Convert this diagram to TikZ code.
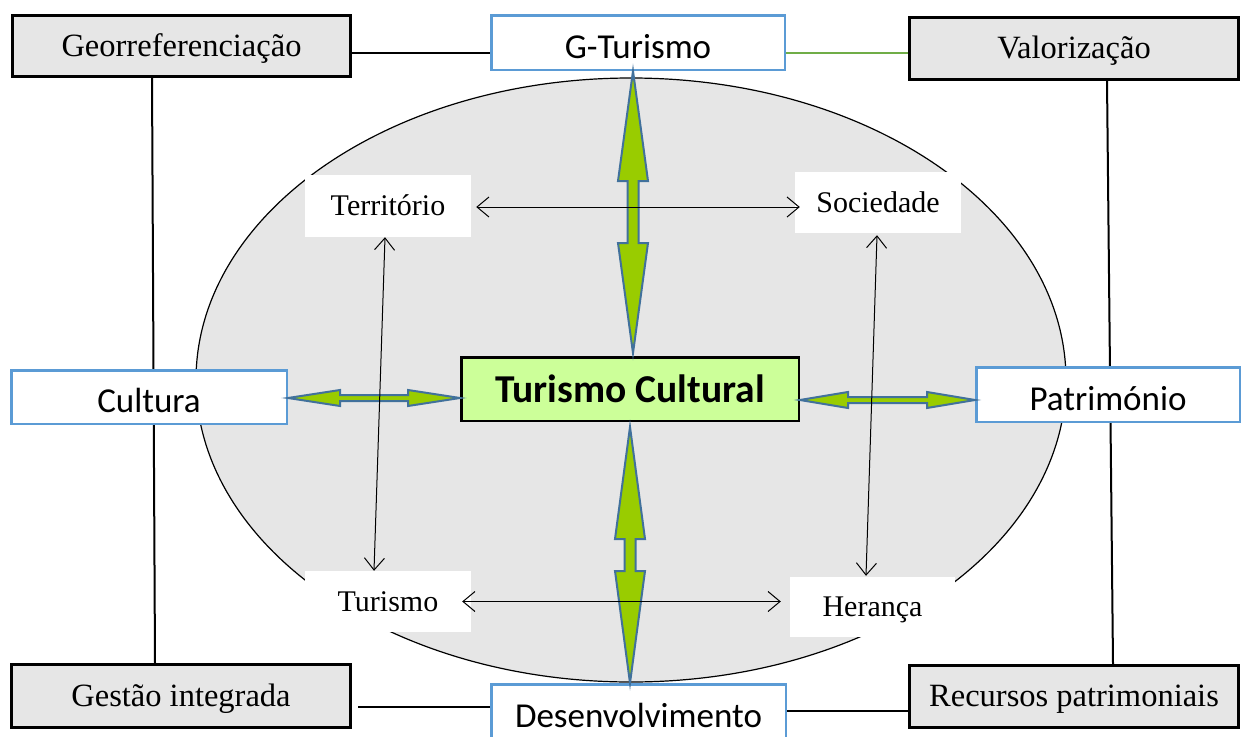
\documentclass[tikz,border=0pt]{standalone}
\usepackage{fontspec}
\setmainfont{Liberation Serif}
\newfontfamily\calibri{Carlito}
\usepackage{tikz}
\usetikzlibrary{calc,arrows.meta}
\definecolor{cinza}{HTML}{E6E6E6}
\definecolor{azul}{HTML}{5B9BD5}
\definecolor{verdeclaro}{HTML}{CCFF99}
\definecolor{verdeseta}{HTML}{99CC00}
\definecolor{azulseta}{HTML}{41719C}
\definecolor{verdelinha}{HTML}{70AD47}

% double block arrow: ends, half shaft, half head, head length
\newcommand{\setadupla}[5]{%
  \coordinate (h1) at ($(#1)!#5!(#2)$);
  \coordinate (h2) at ($(#2)!#5!(#1)$);
  \filldraw[seta] (#1) -- ($(h1)!#4!90:(#1)$) -- ($(h1)!#3!90:(#1)$)
    -- ($(h2)!#3!-90:(#2)$) -- ($(h2)!#4!-90:(#2)$) -- (#2)
    -- ($(h2)!#4!90:(#2)$) -- ($(h2)!#3!90:(#2)$)
    -- ($(h1)!#3!-90:(#1)$) -- ($(h1)!#4!-90:(#1)$) -- cycle;
}

\begin{document}
\begin{tikzpicture}[x=1pt,y=-1pt,
    caixa/.style={draw=black,line width=3pt,fill=cinza,inner sep=0pt,text height=21pt,text depth=1pt,
      font=\fontsize{32.5}{36}\selectfont},
    conceito/.style={draw=azul,line width=2.5pt,fill=white,inner sep=0pt,text height=31pt,text depth=0pt,
      font=\calibri\fontsize{35}{40}\selectfont},
    rotulo/.style={fill=white,inner sep=0pt,minimum width=166,text height=19pt,text depth=0pt,
      font=\fontsize{30}{34}\selectfont},
    ligacao/.style={line width=1.5pt},
    seta/.style={fill=verdeseta,draw=azulseta,line width=2pt,line join=miter},
    fina/.style={line width=1pt,<->,>={Straight Barb[length=12pt,width=20pt]}}]
    \useasboundingbox (0,0) rectangle (1241,736);
    \fill[white] (0,0) rectangle (1241,736);
    \draw[fill=cinza,line width=1.2pt] (631,380) ellipse [x radius=435pt, y radius=302pt];

    % outer boxes
    \node[caixa,minimum width=338,minimum height=61] (geo) at (181.5,46) {Georreferenciação};
    \node[caixa,minimum width=329,minimum height=62] (valor) at (1074,48.5) {Valorização};
    \node[caixa,minimum width=339,minimum height=63] (gest) at (181,696) {Gestão integrada};
    \node[caixa,minimum width=329,minimum height=62] (recur) at (1074,696.5) {Recursos patrimoniais};
    \node[conceito,minimum width=293.5,minimum height=54.5] (gtur) at (638,42.5) {G-Turismo};
    \node[conceito,minimum width=294.5,minimum height=55.5] (desen) at (638.5,712) {Desenvolvimento};

    % frame lines
    \draw[ligacao] ([yshift=-7pt]geo.east) -- ([yshift=-7pt]geo.east -| gtur.west);
    \draw[ligacao,verdelinha,line width=1.2pt] ([yshift=-4.5pt]valor.west) -- ([yshift=-4.5pt]valor.west -| gtur.east);
    \draw[line width=2pt] ([xshift=-29.5pt]geo.south) -- ([xshift=-26pt]gest.north);
    \draw[line width=2pt] ([xshift=33pt]valor.south) -- ([xshift=39pt]recur.north);
    \draw[ligacao] ([xshift=6pt,yshift=-11pt]gest.east) -- ([yshift=-11pt]gest.east -| desen.west);
    \draw[ligacao] ([yshift=-14.5pt]recur.west) -- ([yshift=-14.5pt]recur.west -| desen.east);

    \node[conceito,minimum width=275.5,minimum height=53.5] (cult) at (149,397) {Cultura};
    \node[conceito,minimum width=263.5,minimum height=54.5] (patr) at (1108,394.5) {Património};
    \node[draw=black,line width=2.5pt,fill=verdeclaro,inner sep=0pt,minimum width=337.5,minimum height=63.5,
      text height=26pt,text depth=0pt,font=\calibri\bfseries\fontsize{39.5}{44}\selectfont] (tc) at (630,389) {Turismo Cultural};

    \node[rotulo,minimum height=62] (terr) at (388,206) {Território};
    \node[rotulo,minimum height=61] (soc) at (878,202.5) {Sociedade};
    \node[rotulo,minimum height=61] (tur) at (388,601.5) {Turismo};
    \node[rotulo,minimum height=60,minimum width=165] (her) at (872.5,607) {Herança};

    % green arrows
    \coordinate (a1) at ([xshift=-5pt]gtur.south);
    \coordinate (a2) at ([xshift=3pt,yshift=3pt]tc.north);
    \coordinate (a3) at ([yshift=-5pt]tc.south);
    \coordinate (a4) at ([xshift=-8.5pt]desen.north);
    \coordinate (a5) at ([yshift=-1pt]cult.east);
    \coordinate (a6) at (a5 -| tc.west);
    \coordinate (a7) at ([yshift=-11pt]tc.east);
    \coordinate (a8) at (a7 -| patr.west);
    \setadupla{a1}{a2}{5.5pt}{15pt}{110pt}
    \setadupla{a3}{a4}{5.5pt}{15pt}{112pt}
    \setadupla{a5}{a6}{3pt}{8pt}{52pt}
    \setadupla{a7}{a8}{3pt}{8pt}{48pt}

    % thin arrows
    \draw[fina] ([xshift=5pt,yshift=-1pt]terr.east) -- ([xshift=5pt,yshift=-1pt]terr.east -| soc.west);
    \draw[fina] ([xshift=-9pt]tur.east) -- ([xshift=-9pt]tur.east -| her.west);
    \draw[fina] ([xshift=-3pt]terr.south) -- ([xshift=-14pt]tur.north);
    \draw[fina] ([xshift=-1pt,yshift=-2pt]soc.south) -- ([xshift=-6.5pt,yshift=1pt]her.north);
\end{tikzpicture}
\end{document}
